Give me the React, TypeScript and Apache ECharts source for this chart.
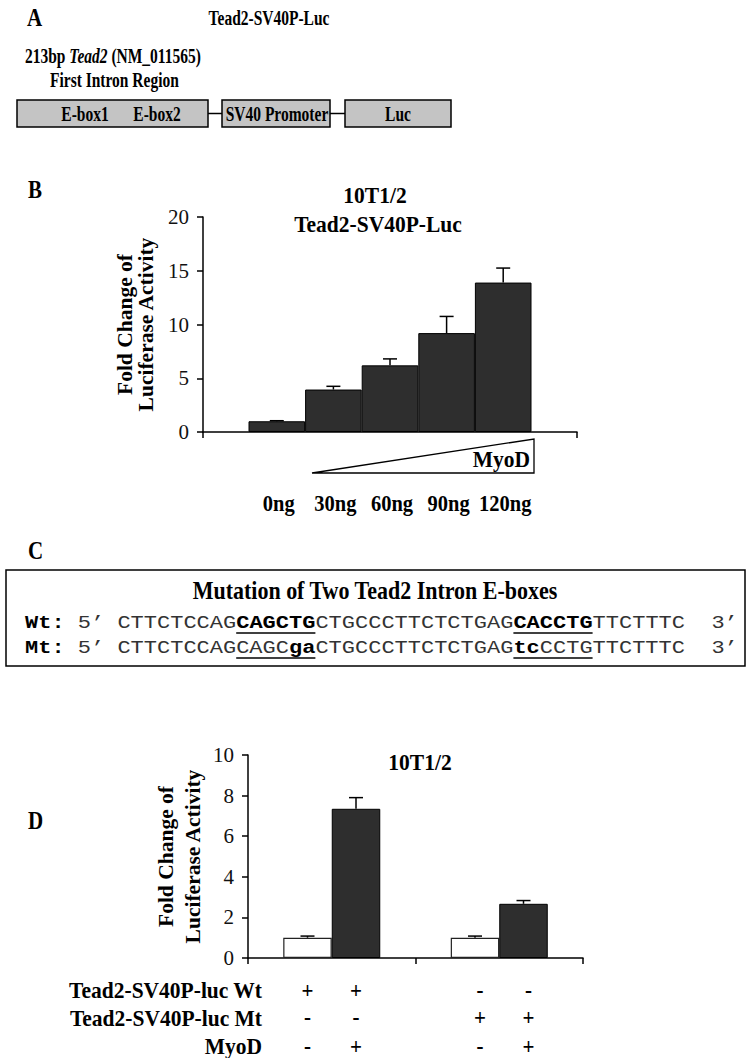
import React, { useEffect, useRef } from 'react';
import * as echarts from 'echarts';

const SERIF = '"Liberation Serif", "Times New Roman", serif';
const MONO = '"Liberation Mono", "Courier New", monospace';

// ---------- Panel A (construct diagram) ----------
const constructTitle = 'Tead2-SV40P-Luc';
const constructBoxes = ['E-box1    E-box2', 'SV40 Promoter', 'Luc'];

// ---------- Panel B data ----------
const bCategories = [''];
const doseLabels = ['0ng', '30ng', '60ng', '90ng', '120ng'];
const doseValues = [1.0, 3.95, 6.2, 9.2, 13.9];
const doseErrors = [0.05, 0.3, 0.6, 1.55, 1.35];
const bYTicks = [0, 5, 10, 15, 20];

// ---------- Panel C data ----------
const wtSegments: [string, string][] = [
  ['n', 'CTTCTCCAG'], ['b', 'CAGCTG'], ['n', 'CTGCCCTTCTCTGAG'], ['b', 'CACCTG'], ['n', 'TTCTTTC'],
];
const mtSegments: [string, string][] = [
  ['n', 'CTTCTCCAGCAGC'], ['b', 'ga'], ['n', 'CTGCCCTTCTCTGAG'], ['b', 'tc'], ['n', 'CCTGTTCTTTC'],
];
const eboxRanges = [[9, 15], [30, 36]];

// ---------- Panel D data ----------
const dCategories = ['Wt', 'Mt'];
const dControl = [1.0, 1.0];
const dControlErr = [0.08, 0.08];
const dMyoD = [7.35, 2.67];
const dMyoDErr = [0.55, 0.16];
const dYTicks = [0, 2, 4, 6, 8, 10];
const dRowLabels = ['Tead2-SV40P-luc Wt', 'Tead2-SV40P-luc Mt', 'MyoD'];
const dRowSigns = [
  ['+', '+', '-', '-'],
  ['-', '-', '+', '+'],
  ['-', '+', '-', '+'],
];

const BW_B = 56.6;
const BW_D = 48.5;

function txt(text: string, x: number, y: number, o: any = {}) {
  const align = o.align || 'left';
  return {
    type: 'text',
    x,
    y,
    scaleY: o.scaleY || 1,
    z: 100,
    style: {
      text,
      fill: o.fill || '#000',
      fontSize: o.size || 15,
      fontFamily: o.family || SERIF,
      fontWeight: o.weight || 'bold',
      fontStyle: o.style || 'normal',
      align,
      textAlign: align,
      verticalAlign: 'middle',
      textVerticalAlign: 'middle',
      rich: o.rich,
    },
  };
}

function buildGraphic() {
  const g: any[] = [];
  const stroke = { stroke: '#000', lineWidth: 1.5 };
  // panel letters
  g.push(txt('A', 27, 17, { size: 21, scaleY: 1.2 }));
  g.push(txt('B', 28, 189, { size: 21, scaleY: 1.2 }));
  g.push(txt('C', 28, 550, { size: 21, scaleY: 1.2 }));
  g.push(txt('D', 28, 820, { size: 21, scaleY: 1.2 }));

  // Panel A
  g.push(txt(constructTitle, 269, 18, { size: 15.5, scaleY: 1.4, align: 'center' }));
  g.push({
    type: 'text', x: 25, y: 56, scaleY: 1.4, z: 100,
    style: {
      text: '{a|213bp\u00A0}{i|Tead2}{a|\u00A0(NM_011565)}',
      align: 'left', textAlign: 'left', verticalAlign: 'middle', textVerticalAlign: 'middle',
      rich: {
        a: { fontSize: 15.5, fontFamily: SERIF, fontWeight: 'bold', fill: '#000', color: '#000' },
        i: { fontSize: 15.5, fontFamily: SERIF, fontWeight: 'bold', fontStyle: 'italic', fill: '#000', color: '#000' },
      },
    },
  });
  g.push(txt('First Intron Region', 50, 80, { size: 15.5, scaleY: 1.4 }));
  const boxes = [[17, 191], [222, 108], [345, 106]];
  boxes.forEach(([x, w]) => {
    g.push({ type: 'rect', shape: { x, y: 100, width: w, height: 27 }, style: { fill: '#c4c4c4', ...stroke }, z: 50 });
  });
  g.push({ type: 'line', shape: { x1: 208, y1: 113.5, x2: 222, y2: 113.5 }, style: stroke, z: 50 });
  g.push({ type: 'line', shape: { x1: 330, y1: 113.5, x2: 345, y2: 113.5 }, style: stroke, z: 50 });
  const eb = constructBoxes[0].split(/\s+/);
  g.push(txt(eb[0], 85, 114, { size: 15.5, scaleY: 1.4, align: 'center' }));
  g.push(txt(eb[1], 157, 114, { size: 15.5, scaleY: 1.4, align: 'center' }));
  g.push(txt(constructBoxes[1], 277, 114, { size: 15.5, scaleY: 1.4, align: 'center' }));
  g.push(txt(constructBoxes[2], 398, 114, { size: 15.5, scaleY: 1.4, align: 'center' }));

  // Panel B titles and MyoD wedge
  g.push(txt('10T1/2', 375, 195, { size: 21.5, scaleY: 1.1, align: 'center' }));
  g.push(txt('Tead2-SV40P-Luc', 378, 224, { size: 21.5, scaleY: 1.1, align: 'center' }));
  g.push({
    type: 'polygon',
    shape: { points: [[312, 473], [534, 439], [534, 473]] },
    style: { fill: '#fff', stroke: '#000', lineWidth: 1.3 },
    z: 50,
  });
  g.push(txt('MyoD', 530, 459, { size: 21.5, scaleY: 1.1, align: 'right' }));

  // Panel C
  g.push({ type: 'rect', shape: { x: 6, y: 570, width: 739, height: 96 }, style: { fill: 'none', ...stroke }, z: 50 });
  g.push(txt('Mutation of Two Tead2 Intron E-boxes', 375, 590, { size: 22, scaleY: 1.15, align: 'center' }));
  const X0 = 25;
  const CW = 13.2;
  const seqCol = 7;
  const rows: [string, [string, string][], number][] = [
    ['Wt:', wtSegments, 623],
    ['Mt:', mtSegments, 648],
  ];
  rows.forEach(([lab, segs, y]) => {
    const mono = (t: string, col: number, bold: boolean) =>
      txt(t, X0 + col * CW, y, { size: 22, family: MONO, weight: bold ? 'bold' : 'normal', fill: bold ? '#000' : '#333', scaleY: 0.85 });
    g.push(mono(lab, 0, true));
    g.push(mono('5\u2019', 4, false));
    let col = seqCol;
    segs.forEach(([k, s]) => {
      g.push(mono(s, col, k === 'b'));
      col += s.length;
    });
    g.push(mono('3\u2019', col + 2, false));
    eboxRanges.forEach(([a, b]) => {
      g.push({
        type: 'line',
        shape: { x1: X0 + (seqCol + a) * CW, y1: y + 10, x2: X0 + (seqCol + b) * CW, y2: y + 10 },
        style: { stroke: '#000', lineWidth: 1.3 },
        z: 50,
      });
    });
  });

  // Panel D title and row labels
  g.push(txt('10T1/2', 420, 762, { size: 21.5, scaleY: 1.1, align: 'center' }));
  const rowY = [990, 1018, 1046];
  dRowLabels.forEach((l, r) => g.push(txt(l, 262, rowY[r], { size: 21.5, scaleY: 1.1, align: 'right' })));
  return g;
}

const axisStroke = { color: '#000', width: 1.5 };

function makeOption() {
  const bErrData = doseValues.map((v, i) => [0, v, doseErrors[i], i]);
  const dErrData: number[][] = [];
  dCategories.forEach((_, c) => {
    dErrData.push([c, dControl[c], dControlErr[c], 0]);
    dErrData.push([c, dMyoD[c], dMyoDErr[c], 1]);
  });
  const dSignData: number[][] = [];
  dCategories.forEach((_, c) => [0, 1].forEach((s) => dSignData.push([c, 0, s])));

  const textStyleBold = (size: number) => ({
    fontSize: size, fontFamily: SERIF, fontWeight: 'bold', fill: '#000',
    align: 'center', textAlign: 'center', verticalAlign: 'middle', textVerticalAlign: 'middle',
  });

  const yAxisCommon = (ticks: number[], gap: number, lh: number) => ({
    type: 'value',
    min: ticks[0],
    max: ticks[ticks.length - 1],
    interval: ticks[1] - ticks[0],
    axisLine: { show: true, onZero: false, lineStyle: axisStroke },
    axisTick: { show: true, length: 6, lineStyle: axisStroke },
    splitLine: { show: false },
    axisLabel: { fontSize: 21, fontFamily: SERIF, color: '#111', margin: 14 },
    name: 'Fold Change of\nLuciferase Activity',
    nameLocation: 'middle',
    nameGap: gap,
    nameTextStyle: { fontSize: 21.5, fontWeight: 'bold', fontFamily: SERIF, color: '#000', lineHeight: lh },
  });

  return {
    animation: false,
    backgroundColor: '#fff',
    graphic: buildGraphic(),
    grid: [
      { left: 203, right: 173, top: 217, bottom: 1058 - 432 },
      { left: 248, right: 167, top: 755, bottom: 1058 - 958 },
    ],
    xAxis: [
      {
        gridIndex: 0, type: 'category', data: bCategories,
        axisLine: { lineStyle: axisStroke }, axisTick: { show: true, length: 6, lineStyle: axisStroke },
        axisLabel: { show: false },
      },
      {
        gridIndex: 1, type: 'category', data: dCategories,
        axisLine: { lineStyle: axisStroke }, axisTick: { show: true, length: 6, lineStyle: axisStroke },
        axisLabel: { show: false },
      },
    ],
    yAxis: [
      { gridIndex: 0, ...yAxisCommon(bYTicks, 47, 21) },
      { gridIndex: 1, ...yAxisCommon(dYTicks, 42, 27) },
    ],
    series: [
      ...doseLabels.map((d, i) => ({
        name: d,
        type: 'bar',
        xAxisIndex: 0, yAxisIndex: 0,
        barWidth: BW_B,
        barGap: '0%',
        data: [doseValues[i]],
        itemStyle: { color: '#2e2e2e', borderColor: '#000', borderWidth: 1 },
      })),
      {
        type: 'custom', xAxisIndex: 0, yAxisIndex: 0, z: 10,
        encode: { x: 0, y: 1 },
        data: bErrData,
        renderItem: (_p: any, api: any) => {
          const c = api.value(0), v = api.value(1), e = api.value(2), i = api.value(3);
          const base = api.coord([c, v]);
          const top = api.coord([c, v + e]);
          const zero = api.coord([c, 0]);
          const x = base[0] + (i - (doseLabels.length - 1) / 2) * BW_B;
          return {
            type: 'group',
            children: [
              { type: 'line', shape: { x1: x, y1: base[1], x2: x, y2: top[1] }, style: { stroke: '#000', lineWidth: 1.5 } },
              { type: 'line', shape: { x1: x - 7, y1: top[1], x2: x + 7, y2: top[1] }, style: { stroke: '#000', lineWidth: 1.5 } },
              { type: 'text', x: x + 2, y: zero[1] + 72, scaleY: 1.1, style: { text: doseLabels[i], ...textStyleBold(20.5) } },
            ],
          };
        },
      },
      {
        name: 'Control', type: 'bar', xAxisIndex: 1, yAxisIndex: 1,
        barWidth: BW_D, barGap: '0%', data: dControl,
        itemStyle: { color: '#fff', borderColor: '#222', borderWidth: 1.2 },
      },
      {
        name: 'MyoD', type: 'bar', xAxisIndex: 1, yAxisIndex: 1,
        barWidth: BW_D, barGap: '0%', data: dMyoD,
        itemStyle: { color: '#2e2e2e', borderColor: '#000', borderWidth: 1 },
      },
      {
        type: 'custom', xAxisIndex: 1, yAxisIndex: 1, z: 10,
        encode: { x: 0, y: 1 },
        data: dErrData,
        renderItem: (_p: any, api: any) => {
          const c = api.value(0), v = api.value(1), e = api.value(2), s = api.value(3);
          const base = api.coord([c, v]);
          const top = api.coord([c, v + e]);
          const x = base[0] + (s - 0.5) * BW_D;
          return {
            type: 'group',
            children: [
              { type: 'line', shape: { x1: x, y1: base[1], x2: x, y2: top[1] }, style: { stroke: '#000', lineWidth: 1.5 } },
              { type: 'line', shape: { x1: x - 7, y1: top[1], x2: x + 7, y2: top[1] }, style: { stroke: '#000', lineWidth: 1.5 } },
            ],
          };
        },
      },
      {
        type: 'custom', xAxisIndex: 1, yAxisIndex: 1, z: 10,
        encode: { x: 0, y: 1 },
        data: dSignData,
        renderItem: (_p: any, api: any) => {
          const c = api.value(0), s = api.value(2);
          const zero = api.coord([c, 0]);
          const x = zero[0] + (s - 0.5) * BW_D + c * 5;
          const col = c * 2 + s;
          const offs = [32, 59, 88];
          return {
            type: 'group',
            children: dRowSigns.map((row, r) => ({
              type: 'text', x, y: zero[1] + offs[r], scaleY: 1.1,
              style: { text: row[col], ...textStyleBold(21) },
            })),
          };
        },
      },
    ],
  };
}

export default function App() {
  const ref = useRef<HTMLDivElement>(null);
  useEffect(() => {
    const chart = echarts.init(ref.current!, undefined, { renderer: 'svg' });
    chart.setOption(makeOption() as any);
    return () => chart.dispose();
  }, []);
  return (
    <div
      ref={ref}
      style={{ position: 'absolute', left: 0, top: 0, width: 750, height: 1058, background: '#fff' }}
    />
  );
}
